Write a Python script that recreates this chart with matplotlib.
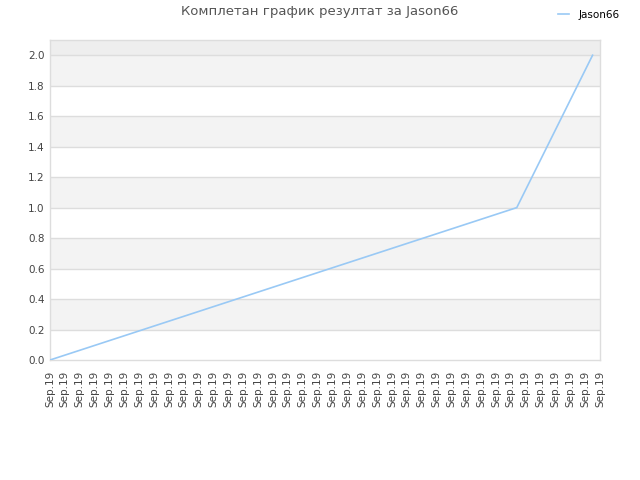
import matplotlib
matplotlib.use("Agg")
import matplotlib.pyplot as plt
from matplotlib.lines import Line2D

title = "Комплетан график резултат за Jason66"
series_name = "Jason66"
tick_labels = ["Sep.19"] * 38
series_x = [0, 31.4, 36.5]
series_y = [0.0, 1.0, 2.0]
y_ticks = [0.0, 0.2, 0.4, 0.6, 0.8, 1.0, 1.2, 1.4, 1.6, 1.8, 2.0]

line_color = "#99c9f5"
grid_color = "#dddddd"
text_color = "#444444"

fig = plt.figure(figsize=(6.4, 4.8), dpi=100)
ax = fig.add_axes([50/640, 120/480, 550/640, 320/480])

ymax = 2.1
bounds = y_ticks + [ymax]
for i in range(len(bounds) - 1):
    lo, hi = bounds[i], bounds[i + 1]
    if i == len(bounds) - 2:
        c = "#eeeeee"
    elif i % 2 == 1:
        c = "#f3f3f3"
    else:
        c = "#ffffff"
    ax.axhspan(lo, hi, color=c, zorder=0, lw=0)
for t in y_ticks[1:]:
    ax.axhline(t, color=grid_color, lw=1, zorder=1)

ax.plot(series_x, series_y, color=line_color, lw=1.2, zorder=3)

ax.set_xlim(0, len(tick_labels) - 1)
ax.set_ylim(0, ymax)
ax.set_xticks(range(len(tick_labels)))
ax.set_xticklabels(tick_labels, rotation=90, fontsize=7.5, color=text_color)
ax.set_yticks(y_ticks)
ax.set_yticklabels([f"{v:.1f}" for v in y_ticks], fontsize=7.5, color=text_color)
ax.tick_params(axis="y", length=0, pad=4)
ax.tick_params(axis="x", length=0, pad=8)
for s in ax.spines.values():
    s.set_color(grid_color)
    s.set_linewidth(1)

fig.text(0.5, 1 - 12/480, title, ha="center", va="center", fontsize=9.5, color="#555555")
h = Line2D([0], [0], color=line_color, lw=1.2)
fig.legend([h], [series_name], loc="center left", bbox_to_anchor=(553/640, 1 - 15/480),
           frameon=False, fontsize=7.5, handlelength=1.0, handletextpad=1.0, borderpad=0)

fig.savefig("out.png", dpi=100)
